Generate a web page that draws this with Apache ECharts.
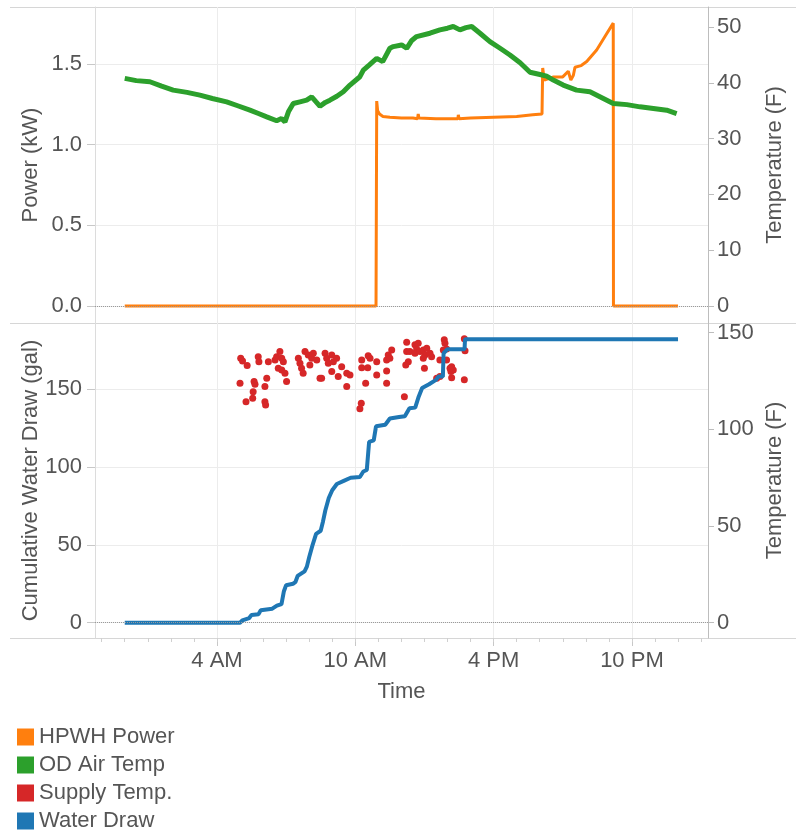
<!DOCTYPE html>
<html>
<head>
<meta charset="utf-8">
<script src="https://cdn.jsdelivr.net/npm/echarts@6/dist/echarts.min.js"></script>
<style>
html,body{margin:0;padding:0;background:#fff;}
#chart{width:796px;height:839px;}
</style>
</head>
<body>
<div id="chart"></div>
<script>
// ---- Data (time in hours since midnight) ----
const xTickValues = [4, 10, 16, 22];
const xTickLabels = ['4 AM', '10 AM', '4 PM', '10 PM'];
const xMinorTicks = [-1,0,1,2,3,4,5,6,7,8,9,10,11,12,13,14,15,16,17,18,19,20,21,22,23,24,25];
const powerTicks = [0, 0.5, 1.0, 1.5];
const topTempTicks = [0, 10, 20, 30, 40, 50];
const drawTicks = [0, 50, 100, 150];
const bottomTempTicks = [0, 50, 100, 150];

// HPWH Power (kW)
const hpwhPower = [
  [0,0],[10.9,0],[10.93,1.27],[10.97,1.21],[11.05,1.19],[11.2,1.175],[11.5,1.17],[12.0,1.165],
  [12.5,1.165],[12.7,1.16],[12.73,1.19],[12.76,1.165],[13.5,1.16],[14.0,1.16],[14.45,1.16],
  [14.47,1.185],[14.5,1.16],[15.0,1.165],[16.0,1.17],[17.0,1.175],[17.7,1.185],[18.1,1.19],
  [18.13,1.475],[18.2,1.40],[18.6,1.42],[19.0,1.42],[19.24,1.455],[19.35,1.40],[19.46,1.43],
  [19.53,1.48],[19.8,1.49],[20.04,1.515],[20.47,1.587],[20.83,1.67],[21.19,1.753],[21.2,0],[24,0]
];

// OD Air Temp (F)
const odAirTemp = [
  [0.0,40.8],[0.5,40.4],[1.09,40.2],[1.6,39.4],[2.1,38.7],[2.7,38.3],[3.26,37.8],[3.8,37.2],
  [4.42,36.6],[4.9,35.9],[5.43,35.1],[5.8,34.5],[6.16,33.9],[6.59,33.2],[6.8,33.6],[6.95,33.0],
  [7.1,34.8],[7.31,36.3],[7.6,36.6],[7.89,36.9],[8.11,37.5],[8.3,36.6],[8.47,35.8],[8.7,36.5],
  [8.9,36.9],[9.2,37.6],[9.48,38.4],[9.77,39.6],[10.2,41.1],[10.35,42.3],[10.6,43.2],[10.93,44.4],
  [11.19,43.8],[11.5,46.2],[11.65,46.5],[12.01,46.8],[12.23,46.2],[12.45,47.6],[12.66,48.3],
  [13.24,48.9],[13.67,49.5],[14.0,49.8],[14.25,50.1],[14.54,49.5],[14.8,49.9],[15.05,50.1],
  [15.41,48.9],[15.84,47.4],[16.28,46.2],[16.71,45.0],[17.15,43.6],[17.58,41.9],[18.01,41.5],
  [18.3,41.2],[18.59,40.5],[19.02,39.6],[19.6,38.7],[20.18,38.4],[20.76,37.2],[21.19,36.3],
  [21.78,36.1],[22.35,35.7],[22.93,35.4],[23.51,35.1],[23.94,34.5]
];

// Supply Temp. (F)
const supplyTemp = [
  [5.03,136.8],[5.11,135.4],[5.31,133.0],[5.00,123.8],[5.26,114.3],[5.55,116.1],[5.57,119.5],
  [5.61,124.7],[5.65,123.3],[5.79,137.6],[5.82,135.0],[6.08,114.3],[6.11,112.6],[6.08,122.1],
  [6.16,126.4],[6.23,135.0],[6.52,135.9],[6.59,137.6],[6.73,140.2],[6.81,136.8],[6.88,135.0],
  [6.66,131.6],[6.81,130.7],[6.95,129.0],[7.02,124.7],[7.53,136.8],[7.60,134.2],[7.67,131.6],
  [7.74,129.0],[7.82,140.2],[7.96,138.5],[8.03,133.3],[8.11,136.8],[8.18,139.4],[8.33,135.9],
  [8.47,126.4],[8.54,126.4],[8.69,139.4],[8.76,136.8],[8.83,134.2],[8.98,138.5],[9.05,135.0],
  [9.19,136.8],[8.98,129.9],[9.26,127.3],[9.41,132.4],[9.63,129.0],[9.63,122.1],[9.77,128.1],
  [10.28,135.9],[10.28,131.9],[10.54,131.9],[10.56,138.1],[10.64,136.8],[10.45,123.8],
  [10.26,113.5],[10.20,110.6],[10.93,135.0],[10.93,128.1],[11.36,135.9],[11.36,130.2],
  [11.36,123.8],[11.43,138.5],[11.58,141.1],[11.50,136.8],[12.13,116.9],[12.23,145.1],
  [12.23,140.2],[12.30,135.0],[12.19,133.3],[12.37,140.2],[12.59,143.7],[12.66,141.6],
  [12.73,144.5],[12.59,139.4],[12.81,140.2],[12.95,141.1],[13.02,138.5],[12.95,136.8],
  [13.00,131.6],[13.10,142.0],[13.24,139.4],[13.31,137.6],[13.53,126.4],[13.67,127.3],
  [13.67,135.9],[13.82,141.1],[13.86,146.3],[13.89,144.5],[13.96,141.6],[13.96,135.9],
  [14.18,132.4],[14.25,130.7],[14.15,129.9],[14.18,126.7],[14.11,131.6],[14.73,146.8],
  [14.76,140.7],[14.73,125.6]
];

// Water Draw (cumulative gal)
const waterDraw = [
  [0,0],[5.0,0],[5.1,1.5],[5.4,3],[5.5,5],[5.8,5.5],[5.9,8],[6.4,9],[6.6,11],[6.8,12],[6.9,20],
  [7.0,24],[7.3,25],[7.4,26],[7.5,30],[7.8,33],[7.9,36],[8.0,42],[8.15,50],[8.3,57],[8.5,59],
  [8.6,65],[8.7,72],[8.85,80],[9.0,85],[9.2,89],[9.5,91],[9.8,93],[10.2,93.5],[10.35,97],
  [10.5,98],[10.6,116],[10.8,117],[10.9,126],[11.3,127],[11.5,131],[11.9,132],[12.15,132.5],
  [12.35,137.6],[12.6,138],[12.75,145],[12.9,150.6],[13.2,153],[13.5,155.8],[13.6,157.9],
  [13.8,157.9],[13.83,172.9],[14.0,175.5],[14.74,175.5],[14.76,181.9],[24,181.9]
];

// ---- Chart ----
const txt = '#555';
const fontFam = '"Liberation Sans", Arial, sans-serif';
const fs = 22;
const gridColor = '#ececec';

const chart = echarts.init(document.getElementById('chart'), null, {renderer: 'canvas'});
const xMin = -1.29, xMax = 25.3;

function leftY(grid, min, max, ticks, name, fmt) {
  return {
    type: 'value', gridIndex: grid, position: 'left', min: min, max: max,
    axisLine: {show: true, onZero: false, lineStyle: {color: '#dcdcdc'}},
    axisTick: {show: true, customValues: ticks, length: 8, lineStyle: {color: '#c8c8c8'}},
    axisLabel: {customValues: ticks, formatter: fmt, color: txt, fontSize: fs, fontFamily: fontFam, margin: 13},
    splitLine: {show: true, lineStyle: {color: gridColor}},
    name: name, nameLocation: 'middle', nameGap: 53, nameRotate: 90, nameMoveOverlap: false,
    nameTextStyle: {color: txt, fontSize: fs, fontFamily: fontFam}
  };
}
function rightY(grid, min, max, ticks, name) {
  return {
    type: 'value', gridIndex: grid, position: 'right', min: min, max: max,
    axisLine: {show: true, onZero: false, lineStyle: {color: '#bdbdbd'}},
    axisTick: {show: true, customValues: ticks, length: 6, lineStyle: {color: '#bdbdbd'}},
    axisLabel: {customValues: ticks, color: txt, fontSize: fs, fontFamily: fontFam, margin: 9},
    splitLine: {show: false},
    name: name, nameLocation: 'middle', nameGap: 56, nameRotate: 90, nameMoveOverlap: false,
    nameTextStyle: {color: txt, fontSize: fs, fontFamily: fontFam}
  };
}

const option = {
  animation: false,
  backgroundColor: '#fff',
  grid: [
    {left: 95, right: 88, top: 7, height: 316},
    {left: 95, right: 88, top: 323, height: 315}
  ],
  xAxis: [
    {
      type: 'value', gridIndex: 0, min: xMin, max: xMax,
      axisLine: {show: false, onZero: false},
      axisTick: {show: false, customValues: xTickValues},
      axisLabel: {show: false, customValues: xTickValues},
      splitLine: {show: true, lineStyle: {color: gridColor}}
    },
    {
      type: 'value', gridIndex: 1, min: xMin, max: xMax, position: 'bottom',
      axisLine: {show: false, onZero: false},
      axisTick: {show: true, customValues: xTickValues, length: 8, lineStyle: {color: '#c8c8c8'}},
      axisLabel: {
        customValues: xTickValues, color: txt, fontSize: fs, fontFamily: fontFam, margin: 12,
        formatter: function (v) { const i = xTickValues.indexOf(v); return i >= 0 ? xTickLabels[i] : ''; }
      },
      splitLine: {show: true, lineStyle: {color: gridColor}},
      name: 'Time', nameLocation: 'middle', nameGap: 43, nameMoveOverlap: false,
      nameTextStyle: {color: txt, fontSize: fs, fontFamily: fontFam}
    },
    {
      type: 'value', gridIndex: 1, min: xMin, max: xMax, position: 'bottom',
      axisLine: {show: false, onZero: false},
      axisTick: {show: true, customValues: xMinorTicks, length: 4, lineStyle: {color: '#d0d0d0'}},
      axisLabel: {show: false, customValues: xMinorTicks},
      splitLine: {show: false}
    }
  ],
  yAxis: [
    leftY(0, -0.105, 1.853, powerTicks, 'Power (kW)', function (v) { return v.toFixed(1); }),
    rightY(0, -3.05, 53.6, topTempTicks, 'Temperature (F)'),
    leftY(1, -9.8, 192.3, drawTicks, 'Cumulative Water Draw (gal)', function (v) { return String(v); }),
    rightY(1, -7.9, 155.0, bottomTempTicks, 'Temperature (F)')
  ],
  legend: {
    orient: 'vertical', left: 17, top: 726, padding: 0,
    itemWidth: 17, itemHeight: 17, itemGap: 6, icon: 'rect',
    textStyle: {color: txt, fontSize: fs, fontFamily: fontFam, lineHeight: 22},
    data: ['HPWH Power', 'OD Air Temp', 'Supply Temp.', 'Water Draw']
  },
  graphic: [
    {type: 'line', shape: {x1: 10, y1: 7.5, x2: 796, y2: 7.5}, style: {stroke: '#d6d6d6', lineWidth: 1}, silent: true},
    {type: 'line', shape: {x1: 10, y1: 323.5, x2: 796, y2: 323.5}, style: {stroke: '#d6d6d6', lineWidth: 1}, silent: true},
    {type: 'line', shape: {x1: 10, y1: 638.5, x2: 796, y2: 638.5}, style: {stroke: '#d6d6d6', lineWidth: 1}, silent: true}
  ],
  series: [
    {
      name: 'HPWH Power', type: 'line', xAxisIndex: 0, yAxisIndex: 0,
      data: hpwhPower, showSymbol: false, color: '#ff7f0e',
      lineStyle: {width: 3, color: '#ff7f0e'},
      markLine: {
        silent: true, symbol: 'none', label: {show: false},
        lineStyle: {type: 'dotted', color: '#9a9a9a', width: 1},
        data: [{yAxis: 0}]
      }
    },
    {
      name: 'OD Air Temp', type: 'line', xAxisIndex: 0, yAxisIndex: 1,
      data: odAirTemp, showSymbol: false, color: '#2ca02c',
      lineStyle: {width: 5, color: '#2ca02c'}
    },
    {
      name: 'Water Draw', type: 'line', xAxisIndex: 1, yAxisIndex: 2,
      data: waterDraw, showSymbol: false, color: '#1f77b4',
      lineStyle: {width: 4, color: '#1f77b4'},
      markLine: {
        silent: true, symbol: 'none', label: {show: false},
        lineStyle: {type: 'dotted', color: '#9a9a9a', width: 1},
        data: [{yAxis: 0}]
      }
    },
    {
      name: 'Supply Temp.', type: 'scatter', xAxisIndex: 1, yAxisIndex: 3,
      data: supplyTemp, symbolSize: 7, color: '#d62728',
      itemStyle: {color: '#d62728', opacity: 1}
    }
  ]
};
chart.setOption(option);
</script>
</body>
</html>
